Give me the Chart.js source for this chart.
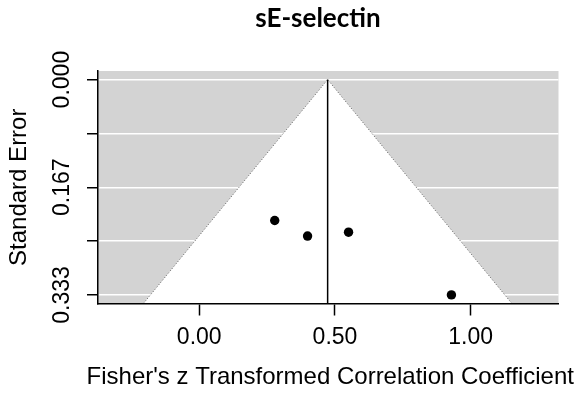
<!DOCTYPE html>
<html><head><meta charset="utf-8">
<script src="https://cdn.jsdelivr.net/npm/chart.js@4/dist/chart.umd.min.js"></script>
<style>html,body{margin:0;padding:0;background:#fff;} #wrap{width:579px;height:398px;position:relative;}</style>
</head><body><div id="wrap"><canvas id="c" width="579" height="398"></canvas></div>
<script>
const chartTitle = 'sE-selectin';
const xAxisTitle = "Fisher's z Transformed Correlation Coefficient";
const yAxisTitle = 'Standard Error';
const studyZ = [0.278, 0.399, 0.550, 0.929];
const studySE = [0.218, 0.242, 0.236, 0.333];
const pooledZ = 0.473;
const zCrit = 1.96;
const xTickValues = [0, 0.5, 1];
const xTickLabels = ['0.00', '0.50', '1.00'];
const yTickValues = [0, 0.08325, 0.1665, 0.24975, 0.333];
const yTickLabels = ['0.000', '', '0.167', '', '0.333'];
const xMin = -0.373, xMax = 1.3235;
const yMin = -0.0133, yMax = 0.3463;

const studyPoints = studyZ.map((z, i) => ({x: z, y: studySE[i]}));
const funnelPoints = [
  {x: pooledZ - zCrit * yMax, y: yMax},
  {x: pooledZ, y: 0},
  {x: pooledZ + zCrit * yMax, y: yMax}
];
const centerLine = [{x: pooledZ, y: 0}, {x: pooledZ, y: yMax}];

const FONT = '"Liberation Sans", Arial, sans-serif';

const bgPlugin = {
  id: 'bg',
  beforeDraw(chart) {
    const {ctx, chartArea: a} = chart;
    ctx.save();
    ctx.fillStyle = '#fff';
    ctx.fillRect(0, 0, chart.width, chart.height);
    ctx.fillStyle = '#d3d3d3';
    ctx.fillRect(a.left, a.top, a.right - a.left, a.bottom - a.top);
    ctx.restore();
  }
};

const textPlugin = {
  id: 'rtext',
  afterDraw(chart) {
    const ctx = chart.ctx, ys = chart.scales.y, xs = chart.scales.x;
    ctx.save();
    ctx.fillStyle = '#000';
    ctx.font = '23px ' + FONT;
    ctx.textAlign = 'center';
    ctx.textBaseline = 'middle';
    yTickValues.forEach((v, i) => {
      const lbl = yTickLabels[i];
      if (!lbl) return;
      const py = ys.getPixelForValue(v);
      ctx.save();
      ctx.translate(ys.right - 35, py);
      ctx.rotate(-Math.PI / 2);
      ctx.fillText(lbl, 0, 0);
      ctx.restore();
    });
    ctx.font = '24px ' + FONT;
    ctx.fillText(xAxisTitle, (xs.left + xs.right) / 2 + 2, xs.top + 74);
    ctx.font = 'bold 26px Lato, "Open Sans", sans-serif';
    ctx.fillText(chartTitle, 318, 19);
    ctx.restore();
  }
};

new Chart(document.getElementById('c'), {
  type: 'scatter',
  data: {
    datasets: [
      {
        type: 'scatter',
        data: studyPoints,
        backgroundColor: '#000',
        borderWidth: 0,
        pointRadius: 4.7,
        order: 1
      },
      {
        type: 'line',
        data: centerLine,
        borderColor: '#000',
        borderWidth: 1.5,
        pointRadius: 0,
        fill: false,
        order: 2
      },
      {
        type: 'line',
        data: funnelPoints,
        borderColor: 'rgba(60,60,60,0.8)',
        borderWidth: 1,
        borderDash: [1, 2],
        backgroundColor: '#fff',
        pointRadius: 0,
        fill: 'start',
        tension: 0,
        order: 3
      }
    ]
  },
  options: {
    responsive: false,
    animation: false,
    devicePixelRatio: 1,
    layout: {padding: {top: 71, right: 20.5, left: 0, bottom: 0}},
    plugins: {legend: {display: false}, tooltip: {enabled: false}, title: {display: false}},
    scales: {
      x: {
        type: 'linear',
        position: 'bottom',
        min: xMin,
        max: xMax,
        afterBuildTicks: s => { s.ticks = xTickValues.map(v => ({value: v})); },
        afterFit: s => { s.height = 94.5; },
        ticks: {
          callback: (v) => xTickLabels[xTickValues.indexOf(v)],
          font: {family: FONT, size: 23},
          color: '#000',
          padding: 8,
          autoSkip: false,
          maxRotation: 0,
          minRotation: 0
        },
        grid: {drawOnChartArea: false, tickLength: 12, tickColor: '#000', tickWidth: 1.5},
        border: {display: true, color: '#000', width: 1.5, z: 1},
        title: {display: false}
      },
      y: {
        type: 'linear',
        position: 'left',
        reverse: true,
        min: yMin,
        max: yMax,
        afterBuildTicks: s => { s.ticks = yTickValues.map(v => ({value: v})); },
        afterFit: s => { s.width = 98; },
        ticks: {display: false},
        grid: {color: '#fff', lineWidth: 1.5, tickLength: 11, tickColor: '#000', tickWidth: 1.5, drawOnChartArea: true},
        border: {display: true, color: '#000', width: 1.5, z: 1},
        title: {display: true, text: yAxisTitle, color: '#000', font: {family: FONT, size: 24}, padding: {top: 5, bottom: 0}}
      }
    }
  },
  plugins: [bgPlugin, textPlugin]
});
</script>
</body></html>
